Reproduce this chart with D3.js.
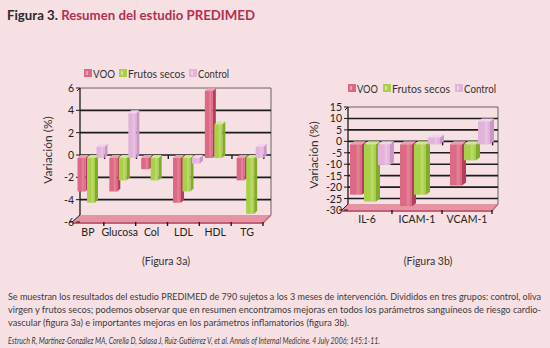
<!DOCTYPE html>
<html>
<head>
<meta charset="utf-8">
<script src="https://cdn.jsdelivr.net/npm/d3@7"></script>
<style>
  html, body { margin: 0; padding: 0; background: #f6e0e4; }
  svg { display: block; }
  text { font-family: Lato, "Open Sans", sans-serif; }
</style>
</head>
<body>
<svg id="chart" width="550" height="348"></svg>
<script>
// ---------- data ----------
const seriesNames = ["VOO", "Frutos secos", "Control"];

const categoriesA = ["BP", "Glucosa", "Col", "LDL", "HDL", "TG"];
const vooA      = [-3, -3, -1, -4, 6, -2];
const frutosA   = [-4, -2, -2, -3, 3, -5];
const controlA  = [1, 4, 0, -0.5, 0, 1];
const ticksA    = [-6, -4, -2, 0, 2, 4, 6];

const categoriesB = ["IL-6", "ICAM-1", "VCAM-1"];
const vooB      = [-22, -27, -18];
const frutosB   = [-25, -22, -7];
const controlB  = [-9, 3, 10];
const ticksB    = [-30, -25, -20, -15, -10, -5, 0, 5, 10, 15];

const captionLines = [
  "Se muestran los resultados del estudio PREDIMED de 790 sujetos a los 3 meses de intervención. Divididos en tres grupos: control, oliva",
  "virgen y frutos secos; podemos observar que en resumen encontramos mejoras en todos los parámetros sanguíneos de riesgo cardio-",
  "vascular (figura 3a) e importantes mejoras en los parámetros inflamatorios (figura 3b)."
];
const citation = "Estruch R, Martínez-González MA, Corella D, Salasa J, Ruiz-Gutiérrez V, et al. Annals of Internal Medicine. 4 July 2006; 145:1-11.";

// ---------- styles ----------
const colors = [
  { front: "#dc6a84", side: "#b23f5a", top: "#ec9fb0" },
  { front: "#a9d04a", side: "#82aa2c", top: "#cfe88e" },
  { front: "#e2b4dc", side: "#cc97c4", top: "#f0d3ec" }
];
const BG = "#f6e0e4";
const svg = d3.select("#chart");
svg.append("rect").attr("width", 550).attr("height", 348).attr("fill", BG);

// ---------- title ----------
const title = svg.append("text").attr("x", 7).attr("y", 20)
  .attr("font-size", 14).attr("font-weight", "bold");
title.append("tspan").attr("fill", "#2a2a2a").text("Figura 3. ");
title.append("tspan").attr("fill", "#b3304f").text("Resumen del estudio PREDIMED");
title.attr("textLength", 248).attr("lengthAdjust", "spacingAndGlyphs");

// ---------- chart drawing ----------
function drawChart(cfg) {
  const g = svg.append("g");
  const y = d3.scaleLinear().domain(cfg.domain).range(cfg.yRange);
  const xFront = d3.scaleBand().domain(cfg.categories).range(cfg.frontX);
  const xBar = d3.scaleBand().domain(cfg.categories).range([cfg.frontX[0] + cfg.barShift, cfg.frontX[1] + cfg.barShift]);
  const xb0 = cfg.backX[0], xb1 = cfg.backX[1];
  const yMin = cfg.domain[0], yMax = cfg.domain[1];
  const ddx = cfg.backX[0] - cfg.frontX[0];

  // back wall border
  g.append("path")
    .attr("d", `M${xb0},${y(yMax)} L${xb1},${y(yMax)} L${xb1},${y(yMin) - cfg.floorDepth}`)
    .attr("fill", "none").attr("stroke", "#444").attr("stroke-width", 0.8);

  // gridlines
  g.selectAll(".grid").data(cfg.ticks.filter(t => t > yMin && t < yMax)).join("line")
    .attr("x1", xb0).attr("x2", xb1)
    .attr("y1", d => y(d)).attr("y2", d => y(d))
    .attr("stroke", "#1c1c1c").attr("stroke-width", 1.6);

  // small ticks along zero line
  g.selectAll(".ztick").data(cfg.categories).join("line")
    .attr("x1", d => xFront(d) + xFront.bandwidth() + ddx * 0.1)
    .attr("x2", d => xFront(d) + xFront.bandwidth() + ddx * 0.1)
    .attr("y1", y(0)).attr("y2", y(0) + 4)
    .attr("stroke", "#1c1c1c").attr("stroke-width", 1.4);

  // floor
  const fy0 = y(yMin) - cfg.floorDepth, fy1 = y(yMin);
  const fx0 = cfg.frontX[0], fx1 = cfg.frontX[1];
  g.append("path")
    .attr("d", `M${fx0},${fy1} L${xb0},${fy0} L${xb1},${fy0} L${fx1 + 0},${fy1} Z`)
    .attr("fill", "#e594a4");
  g.append("path")
    .attr("d", `M${fx0},${fy1} L${fx1},${fy1} L${fx1},${fy1 + 2} L${fx0},${fy1 + 2} Z`)
    .attr("fill", "#c95c76");
  g.append("line").attr("x1", fx1).attr("x2", xb1).attr("y1", fy1 + 1).attr("y2", fy0)
    .attr("stroke", "#c95c76").attr("stroke-width", 1.2);

  // left axis line
  g.append("line").attr("x1", xb0).attr("x2", xb0)
    .attr("y1", y(yMax)).attr("y2", fy0)
    .attr("stroke", "#1c1c1c").attr("stroke-width", 1.3);
  g.append("line").attr("x1", xb0).attr("x2", fx0)
    .attr("y1", fy0).attr("y2", fy1)
    .attr("stroke", "#1c1c1c").attr("stroke-width", 1);
  g.append("line").attr("x1", xb0).attr("x2", xb0 - 3)
    .attr("y1", y(yMax)).attr("y2", y(yMax) + 3)
    .attr("stroke", "#1c1c1c").attr("stroke-width", 1);

  // y tick marks + labels
  g.selectAll(".ytick").data(cfg.ticks).join("line")
    .attr("x1", xb0 - 4).attr("x2", xb0)
    .attr("y1", d => y(d)).attr("y2", d => y(d))
    .attr("stroke", "#1c1c1c").attr("stroke-width", 1);
  const fmt = d3.format("d");
  g.selectAll(".ylab").data(cfg.ticks).join("text")
    .attr("x", cfg.labelX).attr("y", d => y(d) + 4)
    .attr("text-anchor", "end").attr("font-size", 10.5).attr("fill", "#222")
    .text(d => fmt(d).replace("−", "-"));

  // y title
  g.append("text")
    .attr("transform", `translate(${cfg.yTitle[0]},${cfg.yTitle[1]}) rotate(-90)`)
    .attr("text-anchor", "middle").attr("font-size", 12).attr("fill", "#333")
    .text("Variación (%)");

  // x ticks at floor front
  g.selectAll(".xtick").data(cfg.categories).join("line")
    .attr("x1", d => xFront(d) + xFront.bandwidth()).attr("x2", d => xFront(d) + xFront.bandwidth())
    .attr("y1", fy1).attr("y2", fy1 + 4)
    .attr("stroke", "#1c1c1c").attr("stroke-width", 1.4);
  g.append("line").attr("x1", fx0).attr("x2", fx0 - 3).attr("y1", fy1).attr("y2", fy1)
    .attr("stroke", "#1c1c1c").attr("stroke-width", 1);

  // x labels
  g.selectAll(".xlab").data(cfg.categories).join("text")
    .attr("x", d => xFront(d) + xFront.bandwidth() / 2).attr("y", cfg.xLabelY)
    .attr("text-anchor", "middle").attr("font-size", 10.5).attr("fill", "#222")
    .text(d => d);

  // bars
  const inner = d3.scaleBand().domain(d3.range(3)).range([cfg.innerPad, cfg.innerPad + 3 * cfg.barStep]);
  const w = cfg.barW, sdx = cfg.sideDx, sdy = cfg.sideDy;
  cfg.categories.forEach((c, i) => {
    cfg.series.forEach((vals, s) => {
      const v = vals[i];
      if (v === 0) return;
      const bx = xBar(c) + inner(s);
      const topV = Math.max(v, 0), botV = Math.min(v, 0);
      const yt = y(topV) + sdy, yb = y(botV) + sdy;
      const col = colors[s];
      g.append("path")
        .attr("d", `M${bx + w},${yt} L${bx + w + sdx},${yt - sdy} L${bx + w + sdx},${yb - sdy} L${bx + w},${yb} Z`)
        .attr("fill", col.side);
      g.append("path")
        .attr("d", `M${bx},${yt} L${bx + sdx},${yt - sdy} L${bx + w + sdx},${yt - sdy} L${bx + w},${yt} Z`)
        .attr("fill", col.top);
      g.append("rect").attr("x", bx).attr("y", yt).attr("width", w).attr("height", Math.max(0.5, yb - yt))
        .attr("fill", col.front);
      g.append("rect").attr("x", bx + w * 0.55).attr("y", yt).attr("width", w * 0.25).attr("height", Math.max(0.5, yb - yt))
        .attr("fill", col.top).attr("opacity", 0.45);
    });
  });

  // legend
  const lg = g.append("g").attr("transform", `translate(${cfg.legend[0]},${cfg.legend[1]})`);
  let lx = 0;
  seriesNames.forEach((n, s) => {
    lg.append("rect").attr("x", lx).attr("y", -4).attr("width", 8).attr("height", 8).attr("fill", colors[s].front);
    lg.append("rect").attr("x", lx + 2).attr("y", -2).attr("width", 2).attr("height", 4).attr("fill", colors[s].top);
    lg.append("text").attr("x", lx + 9).attr("y", 4.5).attr("font-size", 11.5).attr("fill", "#333")
      .attr("textLength", cfg.legendW[s]).attr("lengthAdjust", "spacingAndGlyphs").text(n);
    lx += 9 + cfg.legendW[s] + cfg.legendGap;
  });
}

drawChart({
  categories: categoriesA,
  series: [vooA, frutosA, controlA],
  domain: [-6, 6], ticks: ticksA,
  yRange: [222, 88],
  frontX: [72, 263], backX: [80, 271], barShift: 4,
  floorDepth: 7,
  innerPad: 1.5, barStep: 9.5, barW: 8, sideDx: 3, sideDy: 3,
  labelX: 74, yTitle: [52, 150], xLabelY: 236,
  legend: [84, 73], legendW: [22, 57, 31], legendGap: 4
});

drawChart({
  categories: categoriesB,
  series: [vooB, frutosB, controlB],
  domain: [-30, 15], ticks: ticksB,
  yRange: [210, 107],
  frontX: [342, 492], backX: [348, 498], barShift: 3,
  floorDepth: 6,
  innerPad: 5, barStep: 14, barW: 12, sideDx: 4, sideDy: 3,
  labelX: 342, yTitle: [318, 155], xLabelY: 223,
  legend: [348, 88], legendW: [21, 58, 32], legendGap: 5
});

// ---------- captions ----------
svg.append("text").attr("x", 166).attr("y", 265).attr("text-anchor", "middle")
  .attr("font-size", 10.5).attr("fill", "#333").text("(Figura 3a)");
svg.append("text").attr("x", 428).attr("y", 265).attr("text-anchor", "middle")
  .attr("font-size", 10.5).attr("fill", "#333").text("(Figura 3b)");

const lineY = [300, 313, 326];
const lineW = [533, 533, 341];
captionLines.forEach((l, i) => {
  svg.append("text").attr("x", 8).attr("y", lineY[i]).attr("font-size", 8.8).attr("fill", "#3a3a3a")
    .attr("textLength", lineW[i]).attr("lengthAdjust", "spacingAndGlyphs").text(l);
});
svg.append("text").attr("x", 8).attr("y", 344).attr("font-size", 8.6).attr("fill", "#3a3a3a")
  .attr("font-style", "italic").attr("textLength", 372).attr("lengthAdjust", "spacingAndGlyphs").text(citation);
</script>
</body>
</html>
